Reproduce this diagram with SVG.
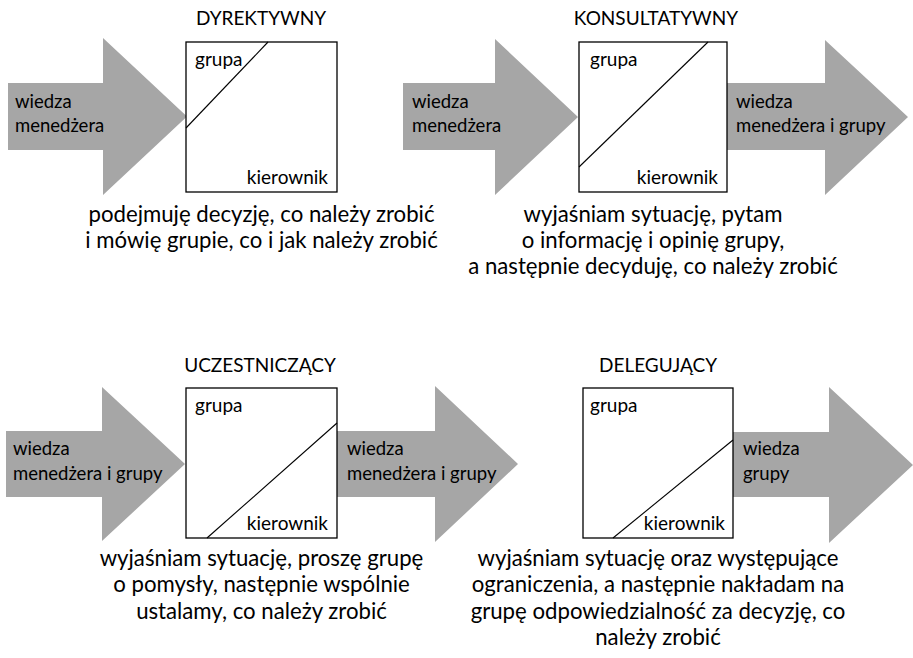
<svg xmlns="http://www.w3.org/2000/svg" width="913" height="658" viewBox="0 0 913 658">
<style>
text{font-family:Lato,"Noto Sans","Liberation Sans",sans-serif;fill:#000}
.arrow{fill:#A6A6A6}
.box{fill:#fff;stroke:#000;stroke-width:1.3}
.diag{stroke:#000;stroke-width:1.1;fill:none}
.t{font-size:19px;text-anchor:middle}
.in{font-size:18.5px}
.lab{font-size:19px}
.cap{font-size:22.2px;text-anchor:middle}
.r{text-anchor:end}
</style>
<rect width="913" height="658" fill="#fff"/>
<g id="connectors">
<polygon class="arrow" points="8,83 103,83 103,38 187,116.5 103,195 103,150 8,150"/>
<polygon class="arrow" points="403,83 495,83 495,39 578,117 495,195 495,150 403,150"/>
<polygon class="arrow" points="727,83 825,83 825,40 908,117 825,195 825,150 727,150"/>
<polygon class="arrow" points="6,431 102,431 102,387 185,464 102,541 102,497 6,497"/>
<polygon class="arrow" points="337,431 435,431 435,386 518,464 435,542 435,497 337,497"/>
<polygon class="arrow" points="733,432 829,432 829,387 913,465 829,543 829,497 733,497"/>
<text class="in" x="15" y="108">wiedza</text>
<text class="in" x="15" y="132">menedżera</text>
<text class="in" x="412" y="108">wiedza</text>
<text class="in" x="412" y="132">menedżera</text>
<text class="in" x="736" y="108">wiedza</text>
<text class="in" x="736" y="132">menedżera i grupy</text>
<text class="in" x="13" y="455">wiedza</text>
<text class="in" x="13" y="480">menedżera i grupy</text>
<text class="in" x="347" y="455">wiedza</text>
<text class="in" x="347" y="480">menedżera i grupy</text>
<text class="in" x="743" y="455">wiedza</text>
<text class="in" x="743" y="480">grupy</text>
</g>
<g id="dyrektywny">
<text class="t" x="261" y="25">DYREKTYWNY</text>
<rect class="box" x="186" y="42" width="151" height="150"/>
<line class="diag" x1="186" y1="128" x2="268" y2="42"/>
<text class="lab" x="195" y="66">grupa</text>
<text class="lab r" x="328" y="184">kierownik</text>
<text class="cap" x="261.5" y="222">podejmuję decyzję, co należy zrobić</text>
<text class="cap" x="261.5" y="248">i mówię grupie, co i jak należy zrobić</text>
</g>
<g id="konsultatywny">
<text class="t" x="656" y="25">KONSULTATYWNY</text>
<rect class="box" x="579" y="42" width="148" height="150"/>
<line class="diag" x1="579" y1="167" x2="708" y2="42"/>
<text class="lab" x="590" y="66">grupa</text>
<text class="lab r" x="718" y="184">kierownik</text>
<text class="cap" x="653" y="222">wyjaśniam sytuację, pytam</text>
<text class="cap" x="653" y="248">o informację i opinię grupy,</text>
<text class="cap" x="653" y="274">a następnie decyduję, co należy zrobić</text>
</g>
<g id="uczestniczacy">
<text class="t" x="260" y="372">UCZESTNICZĄCY</text>
<rect class="box" x="186" y="388" width="151" height="150"/>
<line class="diag" x1="207" y1="538" x2="337" y2="423"/>
<text class="lab" x="195" y="412">grupa</text>
<text class="lab r" x="328" y="530">kierownik</text>
<text class="cap" x="261.5" y="566">wyjaśniam sytuację, proszę grupę</text>
<text class="cap" x="261.5" y="592">o pomysły, następnie wspólnie</text>
<text class="cap" x="261.5" y="619">ustalamy, co należy zrobić</text>
</g>
<g id="delegujacy">
<text class="t" x="658" y="372">DELEGUJĄCY</text>
<rect class="box" x="583" y="388" width="150" height="150"/>
<line class="diag" x1="613" y1="538" x2="733" y2="440"/>
<text class="lab" x="590" y="412">grupa</text>
<text class="lab r" x="725" y="530">kierownik</text>
<text class="cap" x="658" y="566">wyjaśniam sytuację oraz występujące</text>
<text class="cap" x="658" y="592">ograniczenia, a następnie nakładam na</text>
<text class="cap" x="658" y="619">grupę odpowiedzialność za decyzję, co</text>
<text class="cap" x="658" y="645">należy zrobić</text>
</g>
</svg>
